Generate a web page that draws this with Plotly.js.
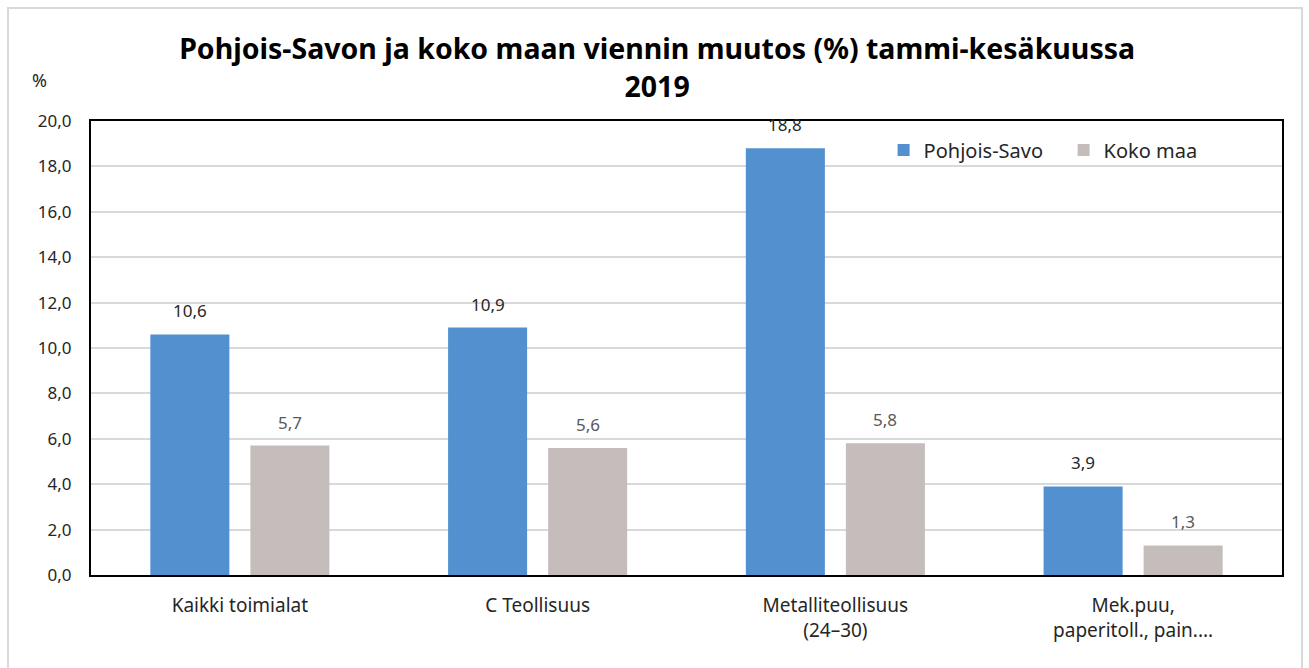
<!DOCTYPE html>
<html>
<head>
<meta charset="utf-8">
<script src="https://cdn.plot.ly/plotly-3.0.1.min.js"></script>
<style>
  html, body { margin: 0; padding: 0; background: #fff; }
  #chart { width: 1309px; height: 668px; }
  #frame { position: absolute; left: 7px; top: 7px; width: 1292px; height: 680px; border: 2px solid #d9d9d9; pointer-events: none; }
</style>
</head>
<body>
<div id="chart"></div>
<div id="frame"></div>
<script>
const categories = ["Kaikki toimialat", "C Teollisuus", "Metalliteollisuus<br>(24–30)", "Mek.puu,<br>paperitoll., pain...."];
const seriesNames = ["Pohjois-Savo", "Koko maa"];
const pohjoisSavo = [10.6, 10.9, 18.8, 3.9];
const kokoMaa = [5.7, 5.6, 5.8, 1.3];
const yTickVals = [0, 2, 4, 6, 8, 10, 12, 14, 16, 18, 20];

const FONT = "Noto Sans, Open Sans, sans-serif";
const labelColors = ["#262626", "#595959"];
const seriesData = [pohjoisSavo, kokoMaa];
const barColors = ["#5390cf", "#c5bdbb"];

const traces = seriesData.map((vals, i) => ({
  type: "bar", name: seriesNames[i], x: categories, y: vals,
  marker: { color: barColors[i] },
  hoverinfo: "skip"
}));

// value labels above bars, anchored on the data values
const annotations = [];
seriesData.forEach((vals, i) => {
  vals.forEach((v, j) => {
    annotations.push({
      xref: "x", yref: "y", x: categories[j], y: v,
      xshift: i === 0 ? -50 : 50, yshift: 10,
      text: v.toFixed(1).replace(".", ","), showarrow: false,
      xanchor: "center", yanchor: "bottom",
      font: { family: FONT, size: 17, color: labelColors[i] }
    });
  });
});
annotations.push({
  text: "%", xref: "paper", yref: "paper", x: -0.043, y: 1.09, xanchor: "center", yanchor: "middle",
  showarrow: false, font: { family: FONT, size: 18, color: "#262626" }
});

const layout = {
  width: 1309, height: 668,
  margin: { l: 91, r: 27, t: 121, b: 93 },
  paper_bgcolor: "#ffffff", plot_bgcolor: "#ffffff",
  separators: ", ",
  font: { family: FONT, color: "#262626" },
  title: {
    text: "<b>Pohjois-Savon ja koko maan viennin muutos (%) tammi-kesäkuussa<br>2019</b>",
    font: { family: FONT, size: 28.5, color: "#000000" },
    x: 0.502, xanchor: "center", y: 0.911, yanchor: "middle", yref: "container"
  },
  barmode: "group", bargap: 0.328, bargroupgap: 0.21,
  showlegend: true,
  legend: {
    orientation: "h", x: 0.6655, xanchor: "left", y: 0.936, yanchor: "middle",
    font: { family: FONT, size: 20, color: "#262626" },
    bgcolor: "rgba(0,0,0,0)", traceorder: "normal",
    entrywidth: 135, entrywidthmode: "pixels"
  },
  xaxis: {
    type: "category", showgrid: false, zeroline: false,
    showline: true, linecolor: "#000000", linewidth: 2, mirror: true,
    ticks: "", tickfont: { family: FONT, size: 19, color: "#262626" },
    ticklabelstandoff: 12
  },
  yaxis: {
    range: [0, 20], tickvals: yTickVals, tickformat: ".1f",
    showgrid: true, gridcolor: "#d9d9d9", gridwidth: 2, zeroline: false,
    showline: true, linecolor: "#000000", linewidth: 2, mirror: true,
    ticks: "", tickfont: { family: FONT, size: 17, color: "#262626" },
    ticklabelstandoff: 14
  },
  annotations: annotations
};

Plotly.newPlot("chart", traces, layout, { displayModeBar: false, staticPlot: true });
</script>
</body>
</html>
